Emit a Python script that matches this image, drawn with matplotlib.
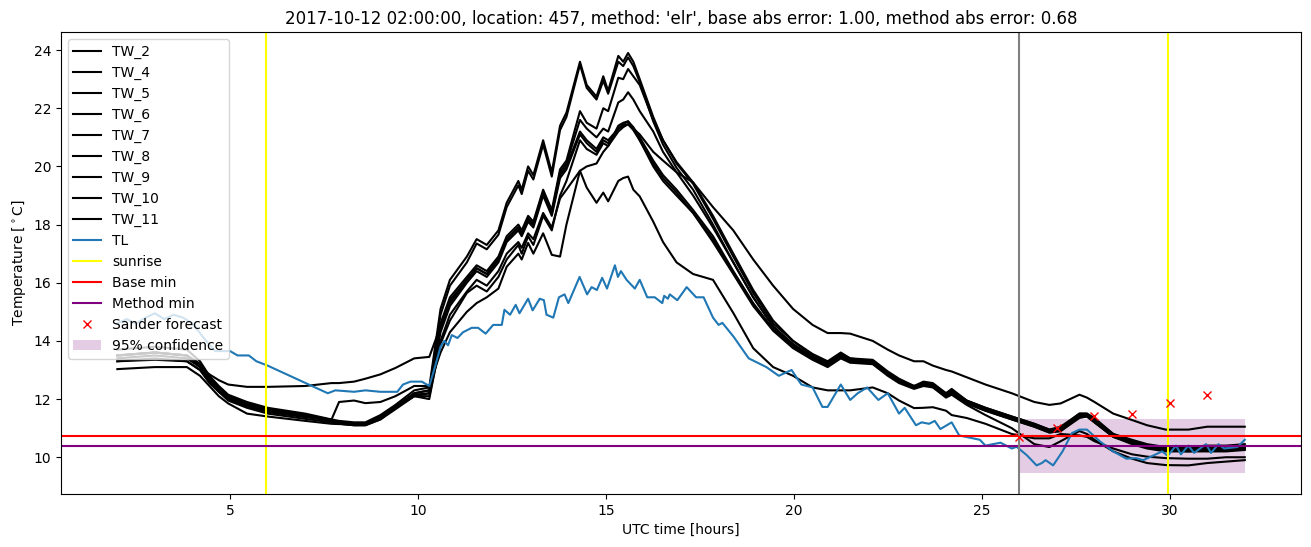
"""Station temperature traces around a forecast night, with min forecasts and sunrise marks."""

import matplotlib

matplotlib.use("Agg")
import matplotlib.pyplot as plt

# shared time knots [hours UTC] for the TW sensors
t_tw = [
    2.0, 3.0, 3.85, 4.2, 4.45, 4.7, 4.95, 5.45, 6.0, 7.0,
    7.7, 7.9, 8.3, 8.6, 9.0, 9.4, 9.9, 10.3, 10.6, 10.85,
    11.3, 11.56, 11.83, 12.14, 12.36, 12.67, 12.76, 12.93, 13.07, 13.33,
    13.56, 13.78, 13.95, 14.31, 14.49, 14.75, 14.93, 15.06, 15.33, 15.46,
    15.59, 15.73, 15.9, 16.26, 16.52, 16.88, 17.32, 17.85, 18.39, 18.92,
    19.45, 19.98, 20.5, 20.9, 21.25, 21.5, 22.1, 22.5, 22.8, 23.2,
    23.45, 23.7, 24.05, 24.2, 24.6, 25.1, 25.8, 26.4, 26.8, 27.1,
    27.6, 27.8, 28.0, 28.5, 29.0, 29.4, 29.9, 30.5, 31.0, 31.5,
    32.0,
]

tw_2 = [
    13.7, 13.8, 13.7, 13.3, 12.8, 12.45, 12.15, 11.9, 11.7, 11.5,
    11.3, 11.25, 11.2, 11.2, 11.45, 11.8, 12.3, 12.4, 15.1, 16.1,
    16.9, 17.5, 17.3, 17.8, 18.75, 19.5, 19.2, 20.0, 19.7, 20.9,
    19.8, 21.4, 21.85, 23.6, 22.8, 22.4, 23.1, 22.6, 23.8, 23.6,
    23.9, 23.6, 23.0, 21.7, 20.9, 20.1, 19.4, 18.2, 16.9, 15.65,
    14.6, 14.0, 13.55, 13.3, 13.6, 13.4, 13.35, 12.95, 12.7, 12.45,
    12.6, 12.55, 12.2, 12.35, 11.95, 11.7, 11.4, 11.15, 10.95, 11.05,
    11.5, 11.5, 11.35, 10.8, 10.6, 10.45, 10.35, 10.35, 10.4, 10.4,
    10.45,
]
tw_4 = [
    13.5, 13.6, 13.5, 13.2, 12.7, 12.35, 12.05, 11.85, 11.65, 11.45,
    11.28, 11.2, 11.15, 11.15, 11.4, 11.75, 12.2, 12.3, 14.9, 15.9,
    16.7, 17.35, 17.15, 17.65, 18.6, 19.35, 19.05, 19.85, 19.55, 20.75,
    19.65, 21.25, 21.7, 23.5, 22.7, 22.3, 22.95, 22.5, 23.6, 23.45,
    23.75, 23.45, 22.9, 21.55, 20.75, 19.95, 19.2, 18.0, 16.7, 15.5,
    14.5, 13.9, 13.45, 13.2, 13.5, 13.35, 13.3, 12.9, 12.65, 12.4,
    12.55, 12.5, 12.15, 12.3, 11.9, 11.65, 11.35, 11.1, 10.9, 11.0,
    11.5, 11.5, 11.3, 10.75, 10.55, 10.4, 10.3, 10.3, 10.35, 10.3,
    10.35,
]
tw_5 = [
    13.5, 13.6, 13.5, 13.2, 12.75, 12.4, 12.1, 11.85, 11.65, 11.45,
    11.28, 11.2, 11.15, 11.15, 11.35, 11.7, 12.2, 12.3, 14.6, 15.5,
    16.2, 16.6, 16.4, 16.9, 17.6, 18.0, 17.8, 18.3, 18.1, 19.2,
    18.5, 19.9, 20.2, 21.9, 21.5, 21.3, 22.0, 21.9, 23.05, 23.0,
    23.35, 23.1, 22.8, 21.6, 20.9, 20.15, 19.45, 18.3, 17.0, 15.75,
    14.7, 14.0, 13.5, 13.25, 13.55, 13.4, 13.3, 12.9, 12.65, 12.45,
    12.55, 12.5, 12.2, 12.3, 11.95, 11.7, 11.4, 11.15, 10.95, 11.0,
    11.45, 11.45, 11.3, 10.8, 10.55, 10.4, 10.3, 10.25, 10.3, 10.3,
    10.35,
]
tw_6 = [
    13.4, 13.5, 13.4, 13.1, 12.65, 12.3, 12.0, 11.8, 11.6, 11.4,
    11.25, 11.15, 11.1, 11.1, 11.3, 11.65, 12.1, 12.2, 14.4, 15.3,
    16.1, 16.5, 16.3, 16.8, 17.5, 17.9, 17.7, 18.2, 18.0, 19.1,
    18.4, 19.8, 20.1, 21.6, 21.3, 21.0, 21.3, 21.2, 22.2, 22.3,
    22.55, 22.3, 21.9, 21.2, 20.5, 19.8, 19.0, 17.9, 16.7, 15.5,
    14.5, 13.85, 13.45, 13.2, 13.5, 13.35, 13.3, 12.85, 12.6, 12.4,
    12.5, 12.45, 12.15, 12.25, 11.9, 11.65, 11.35, 11.1, 10.9, 10.95,
    11.4, 11.45, 11.25, 10.75, 10.5, 10.35, 10.25, 10.25, 10.25, 10.3,
    10.3,
]
tw_7 = [
    13.5, 13.6, 13.5, 13.2, 12.7, 12.35, 12.05, 11.8, 11.6, 11.4,
    11.25, 11.15, 11.1, 11.1, 11.3, 11.7, 12.15, 12.2, 14.3, 15.2,
    16.0, 16.4, 16.2, 16.7, 17.4, 17.8, 17.6, 18.1, 17.9, 19.0,
    18.3, 19.6, 19.9, 21.1, 20.8, 20.5, 20.9, 20.8, 21.3, 21.45,
    21.55, 21.35, 21.0, 20.2, 19.7, 19.2, 18.5, 17.6, 16.4, 15.3,
    14.4, 13.8, 13.4, 13.15, 13.45, 13.3, 13.25, 12.85, 12.6, 12.4,
    12.5, 12.45, 12.1, 12.25, 11.85, 11.6, 11.3, 11.05, 10.85, 10.9,
    11.4, 11.4, 11.2, 10.7, 10.5, 10.35, 10.25, 10.2, 10.25, 10.25,
    10.3,
]
tw_8 = [
    13.5, 13.6, 13.5, 13.1, 12.85, 12.65, 12.5, 12.42, 12.42, 12.45,
    12.55, 12.55, 12.6, 12.7, 12.85, 13.07, 13.4, 13.45, 14.5, 15.4,
    16.1, 16.5, 16.3, 16.8, 17.5, 17.9, 17.7, 18.2, 18.0, 19.1,
    18.4, 19.7, 20.0, 21.2, 20.9, 20.6, 21.0, 20.9, 21.3, 21.4,
    21.45, 21.3, 21.1, 20.5, 20.2, 19.8, 19.45, 18.6, 17.8, 16.8,
    15.9, 15.1, 14.55, 14.27, 14.27, 14.25, 14.0, 13.7, 13.5, 13.3,
    13.3, 13.15, 13.0, 12.95, 12.75, 12.5, 12.2, 11.9, 11.8, 11.85,
    12.15, 12.05, 11.9, 11.5, 11.28, 11.1, 10.95, 10.95, 11.05, 11.05,
    11.05,
]
tw_9 = [
    13.03, 13.1, 13.1, 12.8, 12.45, 12.1, 11.85, 11.5, 11.4, 11.25,
    11.15, 11.14, 11.14, 11.15, 11.35, 11.7, 12.1, 12.0, 14.0, 14.9,
    15.7, 16.1, 15.9, 16.4, 17.0, 17.4, 17.2, 17.7, 17.5, 18.4,
    17.9, 18.9, 19.2, 19.85, 19.27, 18.75, 19.1, 18.8, 19.5, 19.6,
    19.65, 19.2, 18.97, 18.1, 17.4, 16.7, 16.3, 16.1, 14.96, 13.75,
    13.1, 12.8, 12.4, 12.3, 12.3, 12.3, 12.4, 12.2, 11.95, 11.69,
    11.7, 11.72, 11.6, 11.45, 11.35, 11.15, 10.8, 10.65, 10.65, 10.8,
    10.75, 10.7, 10.55, 10.3, 10.1, 10.02, 9.97, 9.95, 9.95, 10.0,
    10.0,
]
tw_10 = [
    13.3, 13.35, 13.3, 13.0, 12.55, 12.25, 12.0, 11.75, 11.55, 11.38,
    11.3, 11.9, 11.95, 11.86, 11.9, 12.1, 12.45, 12.45, 13.6, 14.3,
    15.0, 15.3, 15.5, 15.8, 16.55, 17.0, 16.8, 17.37, 17.0, 17.7,
    16.96, 16.9, 18.0, 19.85, 20.0, 20.1, 20.5, 20.7, 21.4, 21.5,
    21.55, 21.3, 20.9, 20.0, 19.5, 19.0, 18.4, 17.4, 16.3, 15.2,
    14.35, 13.75, 13.35, 13.1, 13.4, 13.25, 13.2, 12.8, 12.55, 12.35,
    12.45, 12.4, 12.05, 12.15, 11.8, 11.45, 11.0, 10.45, 10.35, 10.55,
    10.9, 10.8, 10.6, 10.2, 9.95, 9.8, 9.73, 9.72, 9.8, 9.85,
    9.9,
]
tw_11 = [
    13.3, 13.4, 13.3, 13.0, 12.6, 12.25, 11.95, 11.7, 11.5, 11.32,
    11.2, 11.15, 11.15, 11.15, 11.35, 11.7, 12.1, 12.1, 13.9, 14.7,
    15.65, 15.9, 15.7, 16.2, 16.8, 17.3, 17.0, 17.6, 17.3, 18.3,
    17.8, 19.0, 19.5, 20.9, 20.6, 20.4, 20.8, 20.7, 21.2, 21.35,
    21.45, 21.25, 20.9, 20.1, 19.6, 19.1, 18.4, 17.5, 16.35, 15.25,
    14.4, 13.8, 13.4, 13.15, 13.45, 13.3, 13.25, 12.85, 12.6, 12.4,
    12.5, 12.45, 12.1, 12.2, 11.85, 11.6, 11.3, 11.05, 10.85, 10.9,
    11.35, 11.4, 11.2, 10.7, 10.45, 10.3, 10.2, 10.2, 10.2, 10.2,
    10.25,
]
tw_names = ["TW_2", "TW_4", "TW_5", "TW_6", "TW_7", "TW_8", "TW_9", "TW_10", "TW_11"]

# reference sensor TL
t_tl = [
    2.0, 2.25, 2.5, 2.75, 3.0, 3.25, 3.5, 3.75, 4.0, 4.3,
    4.6, 5.0, 5.2, 5.5, 5.7, 6.0, 7.6, 7.8, 8.3, 8.6,
    9.0, 9.45, 9.6, 9.8, 10.1, 10.3, 10.45, 10.6, 10.7, 10.8,
    10.9, 11.05, 11.2, 11.43, 11.6, 11.8, 12.0, 12.23, 12.3, 12.45,
    12.6, 12.7, 12.93, 13.05, 13.24, 13.35, 13.42, 13.6, 13.75, 13.9,
    14.0, 14.3, 14.5, 14.62, 14.76, 14.9, 15.03, 15.24, 15.32, 15.4,
    15.55, 15.77, 15.9, 16.1, 16.3, 16.5, 16.55, 16.65, 16.7, 16.9,
    17.15, 17.4, 17.6, 17.85, 18.0, 18.1, 18.4, 18.8, 19.27, 19.6,
    19.94, 20.2, 20.5, 20.76, 20.9, 21.25, 21.5, 21.7, 21.95, 22.25,
    22.5, 22.8, 22.95, 23.25, 23.4, 23.6, 23.75, 23.9, 24.2, 24.4,
    24.95, 25.1, 25.5, 25.8, 25.93, 26.2, 26.46, 26.6, 26.7, 26.9,
    27.15, 27.4, 27.6, 27.8, 28.14, 28.5, 28.85, 29.1, 29.3, 29.55,
    29.8, 29.95, 30.17, 30.3, 30.5, 30.65, 30.97, 31.1, 31.3, 31.45,
    31.8, 32.0,
]
tl = [
    14.6, 14.75, 14.6, 14.8, 14.95, 14.75, 14.9, 14.8, 14.6, 14.1,
    13.65, 13.65, 13.5, 13.5, 13.3, 13.15, 12.2, 12.3, 12.25, 12.3,
    12.25, 12.25, 12.5, 12.6, 12.6, 12.45, 13.1, 13.8, 14.0, 13.85,
    14.2, 14.1, 14.3, 14.45, 14.45, 14.25, 14.55, 14.55, 15.07, 14.9,
    15.24, 14.95, 15.45, 15.05, 15.45, 15.4, 14.9, 14.8, 15.5, 15.6,
    15.3, 16.2, 15.6, 15.85, 15.75, 16.17, 15.8, 16.6, 16.2, 16.4,
    16.1, 15.8, 16.1, 15.5, 15.5, 15.3, 15.55, 15.45, 15.6, 15.4,
    15.85, 15.5, 15.5, 14.8, 14.55, 14.62, 14.14, 13.4, 13.1, 12.8,
    13.0, 12.5, 12.4, 11.73, 11.73, 12.5, 11.97, 12.2, 12.4, 11.97,
    12.2, 11.5, 11.7, 11.1, 11.2, 11.15, 11.25, 10.97, 11.2, 10.75,
    10.6, 10.4, 10.5, 10.3, 10.36, 10.07, 9.72, 9.8, 9.9, 9.72,
    10.2, 10.83, 10.95, 10.95, 10.55, 10.2, 9.95, 9.97, 9.9, 10.05,
    10.2, 10.05, 10.4, 10.1, 10.4, 10.15, 10.45, 10.15, 10.45, 10.3,
    10.35, 10.6,
]

sunrise_times = [5.95, 29.95]
forecast_time = 26.0
base_min = 10.72
method_min = 10.40

sander_t = [26, 27, 28, 29, 30, 31]
sander_v = [10.7, 11.0, 11.41, 11.48, 11.87, 12.13]

conf_t = [26.0, 32.0]
conf_low = [9.46, 9.46]
conf_high = [11.31, 11.31]

title = (
    "2017-10-12 02:00:00, location: 457, method: 'elr', "
    "base abs error: 1.00, method abs error: 0.68"
)


def main() -> None:
    fig, ax = plt.subplots(figsize=(13.11, 5.47), dpi=100)
    fig.subplots_adjust(left=0.0465, right=0.9925, bottom=0.097, top=0.9415)

    tw_series = [tw_2, tw_4, tw_5, tw_6, tw_7, tw_8, tw_9, tw_10, tw_11]
    for name, vals in zip(tw_names, tw_series):
        ax.plot(t_tw, vals, color="black", label=name)
    ax.plot(t_tl, tl, label="TL")

    for i, sr in enumerate(sunrise_times):
        ax.axvline(sr, color="yellow", label="sunrise" if i == 0 else None)
    ax.axhline(base_min, color="red", label="Base min")
    ax.axhline(method_min, color="purple", label="Method min")
    ax.axvline(forecast_time, color="grey")
    ax.plot(sander_t, sander_v, "x", color="red", label="Sander forecast")
    ax.fill_between(conf_t, conf_low, conf_high, color="purple", alpha=0.2,
                    linewidth=0, label="95% confidence")

    ax.set_xlabel("UTC time [hours]")
    ax.set_ylabel(r"Temperature [$^\circ$C]")
    ax.set_title(title)
    ax.legend(loc="upper left")

    fig.savefig("out.png", dpi=100)
    plt.close(fig)


if __name__ == "__main__":
    main()
